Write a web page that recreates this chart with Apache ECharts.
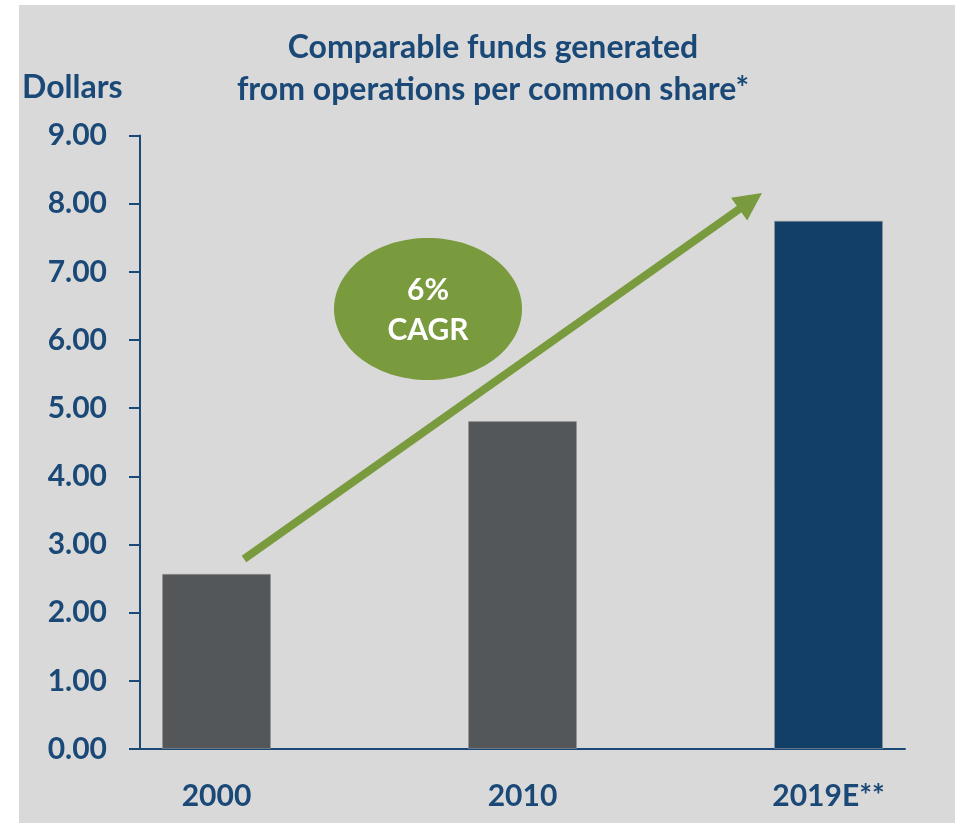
<!DOCTYPE html>
<html>
<head>
<meta charset="utf-8">
<script src="https://cdn.jsdelivr.net/npm/echarts@6/dist/echarts.min.js"></script>
<style>
  html, body { margin: 0; padding: 0; background: #ffffff; }
  #chart { width: 961px; height: 825px; }
</style>
</head>
<body>
<div id="chart"></div>
<script>
// Funds from operations per common share, in dollars
const categories = ['2000', '2010', '2019E**'];
const values = [2.57, 4.81, 7.75];
const barColors = ['#54575a', '#54575a', '#123f67'];
const yTicks = [0, 1, 2, 3, 4, 5, 6, 7, 8, 9];

const NAVY = '#1a4877';
const GREEN = '#799a3d';
const FONT = 'Lato';

// Each category sits in every other slot so the bars keep a wide gap
const slots = [];
const slotValues = [];
categories.forEach((c, i) => {
  if (i > 0) { slots.push(''); slotValues.push('-'); }
  slots.push(c);
  slotValues.push({ value: values[i], itemStyle: { color: barColors[i] } });
});

const chart = echarts.init(document.getElementById('chart'), null, { renderer: 'canvas' });

// Growth arrow geometry
const tail = [244, 559], tip = [762, 193];
const dx = tip[0] - tail[0], dy = tip[1] - tail[1];
const len = Math.hypot(dx, dy);
const ux = dx / len, uy = dy / len;
const headLen = 28, headHalf = 14;
const base = [tip[0] - ux * headLen, tip[1] - uy * headLen];
const px = -uy, py = ux;

chart.setOption({
  backgroundColor: '#ffffff',
  animation: false,
  textStyle: { fontFamily: FONT },
  title: {
    text: 'Comparable funds generated\nfrom operations per common share*',
    left: 488,
    top: 22,
    textAlign: 'center',
    textStyle: { color: NAVY, fontSize: 32, fontWeight: 'bold', fontFamily: FONT, lineHeight: 42 }
  },
  grid: { left: 140, right: 56, top: 135.5, bottom: 76, containLabel: false },
  xAxis: {
    type: 'category',
    data: slots,
    boundaryGap: true,
    axisLine: { show: true, lineStyle: { color: NAVY, width: 2 } },
    axisTick: { show: false },
    axisLabel: {
      interval: 0,
      color: NAVY, fontSize: 30, fontWeight: 'bold', fontFamily: FONT,
      margin: 32
    },
    splitLine: { show: false }
  },
  yAxis: {
    type: 'value',
    min: yTicks[0],
    max: yTicks[yTicks.length - 1],
    interval: 1,
    name: 'Dollars',
    nameLocation: 'end',
    nameGap: 32,
    nameTextStyle: { color: NAVY, fontSize: 32, fontWeight: 'bold', fontFamily: FONT, align: 'left', padding: [0, 0, 0, -118] },
    axisLine: { show: true, lineStyle: { color: NAVY, width: 2 } },
    axisTick: { show: true, inside: false, length: 11, lineStyle: { color: NAVY, width: 2 } },
    axisLabel: {
      color: NAVY, fontSize: 30, fontWeight: 'bold', fontFamily: FONT,
      margin: 33,
      formatter: v => v.toFixed(2)
    },
    splitLine: { show: false }
  },
  series: [{
    type: 'bar',
    data: slotValues,
    barWidth: 109,
    itemStyle: { borderColor: 'rgba(150,150,150,0.6)', borderWidth: 1 }
  }],
  graphic: [
    {
      type: 'rect', z: -10, silent: true,
      shape: { x: 19, y: 5, width: 936, height: 818 },
      style: { fill: '#d9d9d9' }
    },
    {
      type: 'line', z: 10, silent: true,
      shape: { x1: tail[0], y1: tail[1], x2: base[0] + ux * 2, y2: base[1] + uy * 2 },
      style: { stroke: GREEN, lineWidth: 8 }
    },
    {
      type: 'polygon', z: 10, silent: true,
      shape: { points: [tip, [base[0] + px * headHalf, base[1] + py * headHalf], [base[0] - px * headHalf, base[1] - py * headHalf]] },
      style: { fill: GREEN }
    },
    {
      type: 'ellipse', z: 11, silent: true,
      shape: { cx: 428, cy: 309, rx: 94, ry: 71 },
      style: { fill: GREEN }
    },
    {
      type: 'text', z: 12, silent: true,
      x: 428, y: 310,
      style: {
        text: '6%\nCAGR',
        fill: '#ffffff',
        font: 'bold 30px ' + FONT,
        lineHeight: 40,
        align: 'center',
        verticalAlign: 'middle'
      }
    }
  ]
});
</script>
</body>
</html>
